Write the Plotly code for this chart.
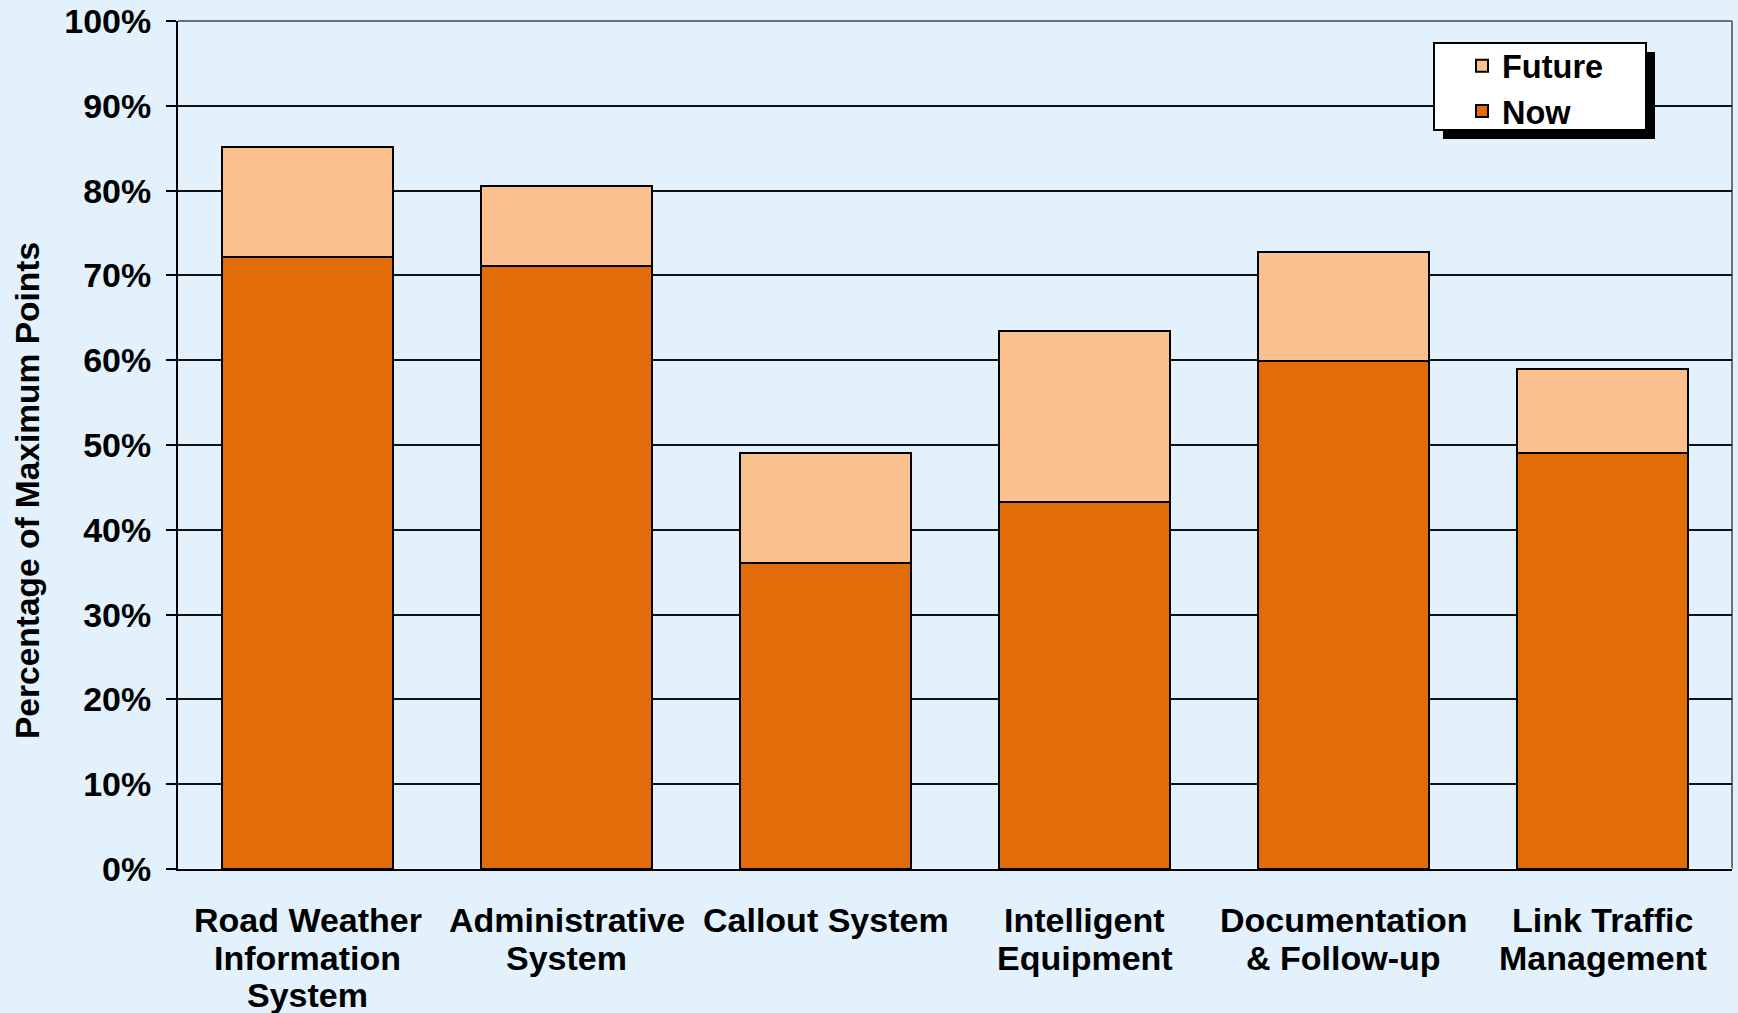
import plotly.graph_objects as go

categories = ["Road Weather<br>Information<br>System", "Administrative<br>System",
              "Callout System", "Intelligent<br>Equipment", "Documentation<br>& Follow-up",
              "Link Traffic<br>Management"]
now_values = [72.2, 71.1, 36.1, 43.3, 59.9, 49.0]
future_values = [12.9, 9.5, 12.9, 20.1, 12.9, 10.0]
y_ticks = [0, 10, 20, 30, 40, 50, 60, 70, 80, 90, 100]
y_tick_labels = ["0%", "10%", "20%", "30%", "40%", "50%", "60%", "70%", "80%", "90%", "100%"]
y_title = "Percentage of Maximum Points"

W, H = 1738, 1013
L, R, T, B = 178, 6, 21, 144
FONT = "Liberation Sans, Arial, sans-serif"
BG = "#e2f1fb"


def px_x(px):
    return (px - L) / (W - L - R)


def px_y(py):
    return (H - B - py) / (H - T - B)


fig = go.Figure()
fig.add_trace(go.Bar(x=categories, y=now_values, name="Now", legendgroup="now",
                     marker=dict(color="#e36c0a", line=dict(color="black", width=2)), width=0.66))
fig.add_trace(go.Bar(x=categories, y=future_values, name="Future", legendgroup="future",
                     marker=dict(color="#fac090", line=dict(color="black", width=2)), width=0.66))

shapes = [
    # right and top border of plot area
    dict(type="line", xref="paper", yref="paper", x0=1, x1=1, y0=0, y1=1,
         line=dict(color="#707070", width=2), layer="below"),
    dict(type="line", xref="paper", yref="paper", x0=0, x1=1, y0=1, y1=1,
         line=dict(color="#707070", width=2), layer="above"),
    # legend shadow
    dict(type="rect", xref="paper", yref="paper", x0=px_x(1443), x1=px_x(1655),
         y0=px_y(139), y1=px_y(52), fillcolor="black", line=dict(width=0), layer="above"),
    # legend box
    dict(type="rect", xref="paper", yref="paper", x0=px_x(1434), x1=px_x(1646),
         y0=px_y(130), y1=px_y(43), fillcolor="white", line=dict(color="black", width=2), layer="above"),
]

annotations = []
line_gap = 37.5
first_line_center = 920
for cat in categories:
    for j, line in enumerate(cat.split("<br>")):
        annotations.append(dict(
            x=cat, xref="x", y=px_y(first_line_center + j * line_gap), yref="paper",
            text=line, showarrow=False, xanchor="center", yanchor="middle",
            font=dict(size=34, family=FONT, weight="bold", color="black")))

annotations.append(dict(
    x=px_x(27), xref="paper", y=px_y(491), yref="paper", text=y_title,
    textangle=-90, showarrow=False, xanchor="center", yanchor="middle",
    font=dict(size=33.5, family=FONT, weight="bold", color="black")))

fig.update_layout(
    width=W, height=H,
    margin=dict(l=L, r=R, t=T, b=B, autoexpand=False),
    barmode="stack",
    paper_bgcolor=BG, plot_bgcolor=BG,
    font=dict(family=FONT, color="black", size=30, weight="bold"),
    shapes=shapes,
    annotations=annotations,
    legend=dict(x=px_x(1462), y=px_y(38), xanchor="left", yanchor="top",
                bgcolor="rgba(0,0,0,0)", borderwidth=0,
                font=dict(size=32.5, family=FONT, weight="bold"),
                traceorder="reversed", tracegroupgap=0, itemwidth=30),
    xaxis=dict(showline=True, linecolor="black", linewidth=2, ticks="",
               showticklabels=False, showgrid=False),
    yaxis=dict(range=[0, 100], tickvals=y_ticks, ticktext=y_tick_labels,
               showline=True, linecolor="black", linewidth=2,
               ticks="outside", ticklen=10, tickwidth=2, tickcolor="black",
               showgrid=True, gridcolor="#111111", gridwidth=1.8,
               tickfont=dict(size=34, family=FONT, weight="bold"),
               ticklabelstandoff=8),
)

fig.write_html("out.html")
